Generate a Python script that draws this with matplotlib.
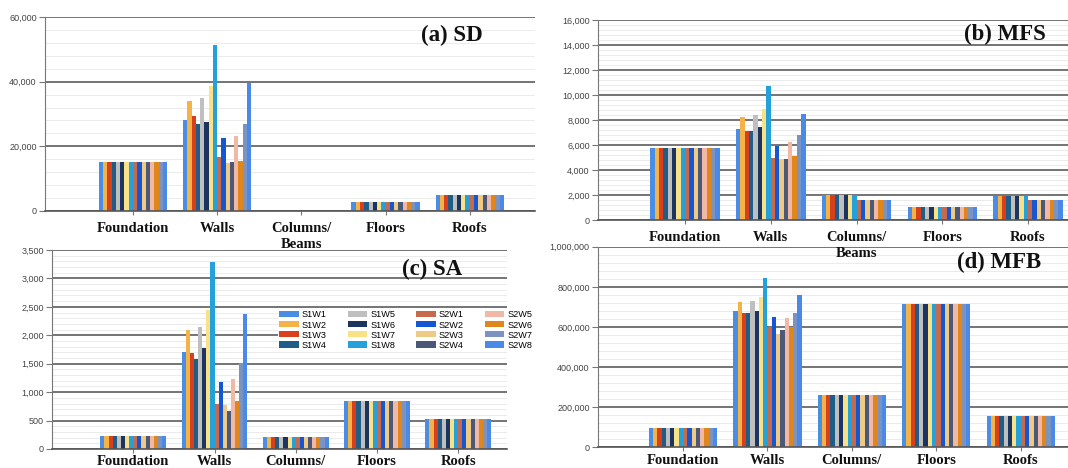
import numpy as np
import matplotlib.pyplot as plt
from matplotlib.ticker import MultipleLocator, FuncFormatter

categories = ["Foundation", "Walls", "Columns/\nBeams", "Floors", "Roofs"]
series = ["S1W1", "S1W2", "S1W3", "S1W4", "S1W5", "S1W6", "S1W7", "S1W8",
          "S2W1", "S2W2", "S2W3", "S2W4", "S2W5", "S2W6", "S2W7", "S2W8"]
colors = ["#4a8de3", "#f5b246", "#d8401c", "#1f5d86", "#bfbfbf", "#1c3560", "#f8e186", "#24a0da",
          "#c6694c", "#1556d2", "#efca84", "#4c5877", "#f1b8a6", "#df871c", "#7a93c1", "#4a89e8"]

# (a) SD  -- one list per category, 16 values in series order
sd_foundation = [15200, 15200, 15200, 15200, 15200, 15200, 15200, 15200, 15200, 15200, 15200, 15200, 15200, 15200, 15200, 15200]
sd_walls = [28000, 33900, 29500, 26900, 35000, 27400, 38800, 51400, 16700, 22600, 14800, 15000, 23100, 15500, 26900, 39500]
sd_columns = [0, 0, 0, 0, 0, 0, 0, 0, 0, 0, 0, 0, 0, 0, 0, 0]
sd_floors = [2700, 2700, 2700, 2700, 2700, 2700, 2700, 2700, 2700, 2700, 2700, 2700, 2700, 2700, 2700, 2700]
sd_roofs = [5000, 5000, 5000, 5000, 5000, 5000, 5000, 5000, 5000, 5000, 5000, 5000, 5000, 5000, 5000, 5000]

# (b) MFS
mfs_foundation = [5800, 5800, 5800, 5800, 5800, 5800, 5800, 5800, 5800, 5800, 5800, 5800, 5800, 5800, 5800, 5800]
mfs_walls = [7270, 8280, 7160, 7160, 8390, 7460, 8920, 10700, 4980, 5960, 4870, 4930, 6230, 5170, 6840, 8520]
mfs_columns = [2000, 2000, 2000, 2000, 2000, 2000, 2000, 2000, 1600, 1600, 1600, 1600, 1600, 1600, 1600, 1600]
mfs_floors = [1050, 1050, 1050, 1050, 1050, 1050, 1050, 1050, 1050, 1050, 1050, 1050, 1050, 1050, 1050, 1050]
mfs_roofs = [1950, 1950, 1950, 1950, 1950, 1950, 1950, 1950, 1600, 1600, 1600, 1600, 1600, 1600, 1600, 1600]

# (c) SA
sa_foundation = [220, 220, 220, 220, 220, 220, 220, 220, 220, 220, 220, 220, 220, 220, 220, 220]
sa_walls = [1710, 2100, 1690, 1590, 2150, 1780, 2440, 3290, 790, 1170, 770, 670, 1225, 850, 1505, 2370]
sa_columns = [210, 210, 210, 210, 210, 210, 210, 210, 210, 210, 210, 210, 210, 210, 210, 210]
sa_floors = [845, 845, 845, 845, 845, 845, 845, 845, 845, 845, 845, 845, 845, 845, 845, 845]
sa_roofs = [520, 520, 520, 520, 520, 520, 520, 520, 520, 520, 520, 520, 520, 520, 520, 520]

# (d) MFB
mfb_foundation = [98000, 98000, 98000, 98000, 98000, 98000, 98000, 98000, 98000, 98000, 98000, 98000, 98000, 98000, 98000, 98000]
mfb_walls = [681000, 724000, 669000, 669000, 728000, 681000, 751000, 846000, 598000, 648000, 563000, 585000, 643000, 598000, 669000, 759000]
mfb_columns = [259000, 259000, 259000, 259000, 259000, 259000, 259000, 259000, 259000, 259000, 259000, 259000, 259000, 259000, 259000, 259000]
mfb_floors = [713000, 713000, 713000, 713000, 713000, 713000, 713000, 713000, 713000, 713000, 713000, 713000, 713000, 713000, 713000, 713000]
mfb_roofs = [156000, 156000, 156000, 156000, 156000, 156000, 156000, 156000, 156000, 156000, 156000, 156000, 156000, 156000, 156000, 156000]

W, H = 1068, 468
fig = plt.figure(figsize=(W / 100, H / 100), dpi=100)


def box(l, t, r, b):
    return [l / W, 1 - b / H, (r - l) / W, (b - t) / H]


panels = [
    # rect (px), xlim, ymax, major, minor, title, title centre (px), x-label pad, data
    (box(45, 17, 535, 211), (-0.045, 5.775), 60000, 20000, 4000, "(a) SD", (452, 35), 5,
     [sd_foundation, sd_walls, sd_columns, sd_floors, sd_roofs]),
    (box(598, 20, 1068, 220.3), (-0.015, 5.466), 16000, 2000, 400, "(b) MFS", (1005, 34), 5,
     [mfs_foundation, mfs_walls, mfs_columns, mfs_floors, mfs_roofs]),
    (box(52, 250, 507, 449), (0.0, 5.6), 3500, 500, 100, "(c) SA", (432, 269), 1,
     [sa_foundation, sa_walls, sa_columns, sa_floors, sa_roofs]),
    (box(598, 246.7, 1068, 447.3), (-0.007, 5.56), 1000000, 200000, 40000, "(d) MFB", (999, 262), 2,
     [mfb_foundation, mfb_walls, mfb_columns, mfb_floors, mfb_roofs]),
]

pos = np.arange(1, len(categories) + 1)
group = 0.81
bw = group / len(series)
axes = []
for rect, xlim, ymax, major, minor, title, txy, xpad, data in panels:
    ax = fig.add_axes(rect)
    ax.set_facecolor("none")
    vals = np.array(data).T          # -> series x categories
    for j, name in enumerate(series):
        ax.bar(pos + (j - 7.5) * bw, vals[j], bw, color=colors[j], label=name, zorder=2)
    ax.set_xlim(*xlim)
    ax.set_ylim(0, ymax)
    ax.yaxis.set_major_locator(MultipleLocator(major))
    ax.yaxis.set_minor_locator(MultipleLocator(minor))
    ax.yaxis.set_major_formatter(FuncFormatter(lambda v, p: f"{v:,.0f}"))
    ax.grid(axis="y", which="major", color="#5c5c5c", lw=1.2, zorder=0)
    ax.grid(axis="y", which="minor", color="#ebebeb", lw=0.7, zorder=0)
    ax.set_axisbelow(True)
    for s in ("top", "right"):
        ax.spines[s].set_visible(False)
    ax.spines["left"].set_color("#777777")
    ax.spines["bottom"].set_color("#555555")
    ax.spines["bottom"].set_linewidth(1.2)
    ax.tick_params(axis="y", which="major", length=4, color="#777777", labelsize=6.5,
                   labelcolor="#444444", pad=2)
    ax.tick_params(axis="y", which="minor", length=0)
    for lab in ax.get_yticklabels():
        lab.set_fontfamily("Liberation Sans")
    ax.set_xticks(pos)
    ax.set_xticklabels(categories, fontfamily="Liberation Serif", fontweight="bold",
                       fontsize=10.5, linespacing=1.3, color="#111111")
    ax.tick_params(axis="x", length=3, color="#777777", pad=xpad)
    fig.text(txy[0] / W, 1 - txy[1] / H, title, ha="center", va="center",
             fontfamily="Liberation Serif", fontweight="bold", fontsize=16.5, color="#111111")
    axes.append(ax)

# upper panels draw over the lower ones so their wrapped labels stay visible
axes[0].set_zorder(3)
axes[1].set_zorder(3)

axes[2].legend(ncol=4, loc="upper left", bbox_to_anchor=(273 / W, 1 - 304 / H),
               bbox_transform=fig.transFigure,
               prop={"family": "Liberation Sans", "size": 6.6},
               handlelength=2.1, handleheight=0.65, handletextpad=0.35,
               columnspacing=2.3, labelspacing=0.12, borderpad=0.2,
               frameon=True, facecolor="white", edgecolor="none", framealpha=1)

fig.savefig("out.png", dpi=100)
